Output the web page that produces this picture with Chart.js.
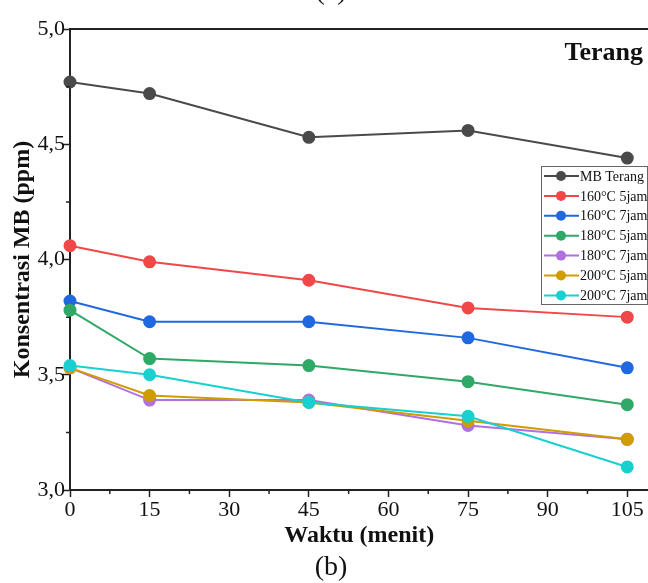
<!DOCTYPE html>
<html>
<head>
<meta charset="utf-8">
<script src="https://cdn.jsdelivr.net/npm/chart.js@4/dist/chart.umd.min.js"></script>
<style>
  html, body { margin: 0; padding: 0; background: #fff; overflow: hidden; }
  #wrap { position: relative; width: 648px; height: 583px; overflow: hidden; }
</style>
</head>
<body>
<div id="wrap"><canvas id="chart" width="656" height="583"></canvas></div>
<script>
    'use strict';

    const waktu      = [0, 15, 45, 75, 105];
    const xTicks     = [0, 15, 30, 45, 60, 75, 90, 105];
    const yTicks     = [3.0, 3.5, 4.0, 4.5, 5.0];

    const mbTerang   = [4.77, 4.72, 4.53, 4.56, 4.44];
    const c160j5     = [4.06, 3.99, 3.91, 3.79, 3.75];
    const c160j7     = [3.82, 3.73, 3.73, 3.66, 3.53];
    const c180j5     = [3.78, 3.57, 3.54, 3.47, 3.37];
    const c180j7     = [3.53, 3.39, 3.39, 3.28, 3.22];
    const c200j5     = [3.53, 3.41, 3.38, 3.30, 3.22];
    const c200j7     = [3.54, 3.50, 3.38, 3.32, 3.10];

    const labels     = ['MB Terang', '160°C 5jam', '160°C 7jam', '180°C 5jam', '180°C 7jam', '200°C 5jam', '200°C 7jam'];
    const colors     = ['#4a4a4a', '#f04848', '#2068e0', '#30a868', '#b070e0', '#d09c00', '#18d0d0'];
    const series     = [mbTerang, c160j5, c160j7, c180j5, c180j7, c200j5, c200j7];

    const SERIF = '"Liberation Serif", "DejaVu Serif", serif';

    function pts(vals) { return vals.map((v, i) => ({ x: waktu[i], y: v })); }

    const datasets = series.map((vals, i) => ({
        label: labels[i],
        data: pts(vals),
        borderColor: colors[i],
        backgroundColor: colors[i],
        borderWidth: 2,
        pointRadius: 5.5,
        pointHoverRadius: 5.5,
        tension: 0,
        clip: false,
    })).reverse();

    // extra drawing: frame top, minor ticks, legend box, captions
    const extras = {
        id: 'extras',
        afterDraw(chart) {
            const { ctx, chartArea: a, scales: { x, y } } = chart;
            ctx.save();
            ctx.strokeStyle = '#222';
            ctx.lineWidth = 2;
            ctx.beginPath();
            ctx.moveTo(a.left, a.top); ctx.lineTo(chart.width, a.top);
            ctx.stroke();

            ctx.lineWidth = 1.5;
            ctx.beginPath();
            for (let v = 7.5; v < 110; v += 15) {
                const px = x.getPixelForValue(v);
                ctx.moveTo(px, a.bottom); ctx.lineTo(px, a.bottom + 4);
            }
            for (let v = 3.25; v < 5; v += 0.5) {
                const py = y.getPixelForValue(v);
                ctx.moveTo(a.left, py); ctx.lineTo(a.left - 4, py);
            }
            ctx.stroke();

            // legend
            const lx = 541, ly = 166, lw = 106, lh = 138, row = 19.9;
            ctx.lineWidth = 1;
            ctx.strokeStyle = '#666';
            ctx.strokeRect(lx + 0.5, ly + 0.5, lw, lh);
            ctx.font = '14px ' + SERIF;
            ctx.textBaseline = 'middle';
            ctx.textAlign = 'left';
            labels.forEach((t, i) => {
                const cy = ly + 10 + i * row;
                ctx.strokeStyle = colors[i];
                ctx.fillStyle = colors[i];
                ctx.lineWidth = 2;
                ctx.beginPath();
                ctx.moveTo(lx + 3, cy); ctx.lineTo(lx + 38, cy);
                ctx.stroke();
                ctx.beginPath();
                ctx.arc(lx + 20, cy, 5, 0, Math.PI * 2);
                ctx.fill();
                ctx.fillStyle = '#111';
                ctx.fillText(t, lx + 39, cy + 1);
            });

            ctx.fillStyle = '#111';
            ctx.font = 'bold 26px ' + SERIF;
            ctx.textAlign = 'right';
            ctx.fillText('Terang', 643, 53);

            ctx.font = '28px ' + SERIF;
            ctx.textAlign = 'center';
            ctx.fillText('(b)', 331, 568);
            ctx.fillText('(a)', 331, -8);
            ctx.restore();
        },
    };

    new Chart(document.getElementById('chart'), {
        type: 'line',
        data: { datasets },
        options: {
            responsive: false,
            animation: false,
            layout: { padding: { top: 29, left: 8, right: 0, bottom: 33 } },
            plugins: { legend: { display: false }, tooltip: { enabled: false } },
            scales: {
                x: {
                    type: 'linear',
                    min: 0,
                    max: 109,
                    afterBuildTicks: s => { s.ticks = xTicks.map(v => ({ value: v })); },
                    afterFit: s => { s.height = 60; },
                    grid: { display: true, drawOnChartArea: false, tickLength: 7, tickColor: '#222', tickWidth: 1.5 },
                    border: { display: true, color: '#222', width: 2 },
                    ticks: { color: '#111', font: { family: SERIF, size: 22 }, padding: 0, maxRotation: 0 },
                    title: { display: true, text: 'Waktu (menit)', color: '#111', font: { family: SERIF, size: 24, weight: 'bold' }, padding: { top: 0, bottom: 0 } },
                },
                y: {
                    min: 3,
                    max: 5,
                    afterBuildTicks: s => { s.ticks = yTicks.map(v => ({ value: v })); },
                    afterFit: s => { s.width = 62; },
                    grid: { display: true, drawOnChartArea: false, tickLength: 7, tickColor: '#222', tickWidth: 1.5 },
                    border: { display: true, color: '#222', width: 2 },
                    ticks: { color: '#111', font: { family: SERIF, size: 22 }, padding: -2, callback: v => v.toFixed(1).replace('.', ',') },
                    title: { display: true, text: 'Konsentrasi MB (ppm)', color: '#111', font: { family: SERIF, size: 24, weight: 'bold' }, padding: { top: 0, bottom: 0 } },
                },
            },
        },
        plugins: [extras],
    });
</script>
</body>
</html>
